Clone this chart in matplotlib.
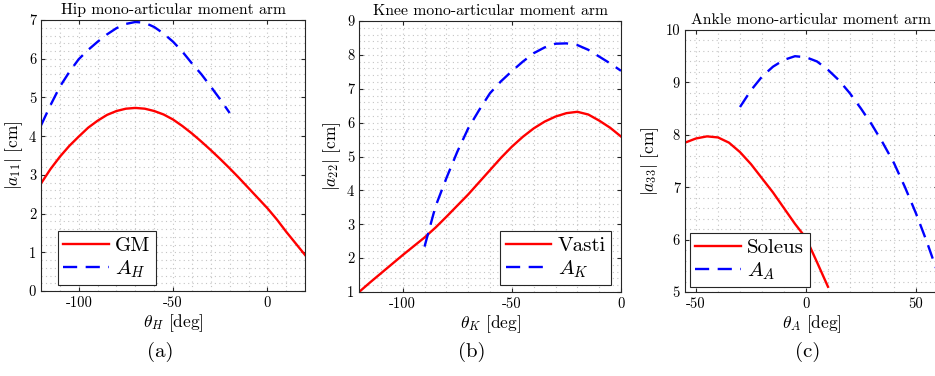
import numpy as np
import matplotlib
matplotlib.use("Agg")
import matplotlib.pyplot as plt
from matplotlib.ticker import MultipleLocator

plt.rcParams['font.family'] = 'serif'
plt.rcParams['font.serif'] = ['cmr10', 'DejaVu Serif']
plt.rcParams['mathtext.fontset'] = 'cm'
plt.rcParams['axes.unicode_minus'] = False
plt.rcParams['axes.formatter.use_mathtext'] = False

# ---- hip ----
hip_x_gm = [-120, -115, -110, -105, -100, -95, -90, -85, -80, -75, -70, -65, -60, -55, -50,
            -45, -40, -35, -30, -25, -20, -15, -10, -5, 0, 5, 10, 15, 20]
hip_gm = [2.78, 3.15, 3.47, 3.75, 3.99, 4.22, 4.40, 4.55, 4.65, 4.71, 4.73, 4.71, 4.65, 4.56, 4.43,
          4.26, 4.07, 3.86, 3.64, 3.41, 3.17, 2.92, 2.66, 2.40, 2.14, 1.85, 1.53, 1.23, 0.93]
hip_x_a = [-120, -115, -110, -105, -100, -95, -90, -85, -80, -75, -70, -65, -60, -55, -50,
           -45, -40, -35, -30, -25, -20]
hip_a = [4.28, 4.80, 5.28, 5.66, 5.99, 6.23, 6.44, 6.63, 6.79, 6.90, 6.95, 6.93, 6.82, 6.65, 6.44,
         6.18, 5.88, 5.60, 5.28, 4.95, 4.60]

# ---- knee ----
knee_x_v = [-120, -115, -110, -105, -100, -95, -90, -85, -80, -75, -70, -65, -60, -55, -50,
            -45, -40, -35, -30, -25, -20, -15, -10, -5, 0]
knee_v = [1.00, 1.28, 1.55, 1.82, 2.09, 2.35, 2.61, 2.90, 3.22, 3.55, 3.88, 4.24, 4.60, 4.96, 5.29,
          5.58, 5.83, 6.03, 6.18, 6.28, 6.32, 6.24, 6.06, 5.85, 5.59]
knee_x_a = [-90, -85, -80, -75, -70, -65, -60, -55, -50, -45, -40, -35, -30, -25, -20, -15, -10, -5, 0]
knee_a = [2.34, 3.52, 4.36, 5.14, 5.83, 6.37, 6.87, 7.22, 7.52, 7.80, 8.05, 8.22, 8.33, 8.34, 8.29,
          8.15, 7.95, 7.75, 7.53]

# ---- ankle ----
ank_x_s = [-55, -50, -45, -40, -35, -30, -25, -20, -15, -10, -5, 0, 5, 10]
ank_s = [7.85, 7.93, 7.97, 7.95, 7.85, 7.67, 7.44, 7.17, 6.90, 6.60, 6.30, 6.03, 5.57, 5.10]
ank_x_a = [-30, -25, -20, -15, -10, -5, 0, 5, 10, 15, 20, 25, 30, 35, 40, 45, 50, 55, 60]
ank_a = [8.53, 8.85, 9.11, 9.30, 9.43, 9.50, 9.48, 9.40, 9.24, 9.04, 8.79, 8.50, 8.19, 7.84, 7.46,
         7.00, 6.50, 5.95, 5.35]

panels = [
    dict(pos=[0.0439, 0.226, 0.2824, 0.7207], xs=(hip_x_gm, hip_x_a), ys=(hip_gm, hip_a),
         labels=('GM', r'$A_H$'), xlim=(-120, 20), ylim=(0, 7),
         title='Hip mono-articular moment arm', xlabel=r'$\theta_H$ [deg]', ylabel=r'$|a_{11}|$ [cm]',
         leg=dict(loc='lower left', bbox_to_anchor=(0.064, 0.022)), tag='(a)', tagx=0.171),
    dict(pos=[0.384, 0.2234, 0.2802, 0.7207], xs=(knee_x_v, knee_x_a), ys=(knee_v, knee_a),
         labels=('Vasti', r'$A_K$'), xlim=(-120, 0), ylim=(1, 9),
         title='Knee mono-articular moment arm', xlabel=r'$\theta_K$ [deg]', ylabel=r'$|a_{22}|$ [cm]',
         leg=dict(loc='lower right', bbox_to_anchor=(0.962, 0.026)), tag='(b)', tagx=0.505),
    dict(pos=[0.7326, 0.2234, 0.2706, 0.6968], xs=(ank_x_s, ank_x_a), ys=(ank_s, ank_a),
         labels=('Soleus', r'$A_A$'), xlim=(-55, 60), ylim=(5, 10),
         title='Ankle mono-articular moment arm', xlabel=r'$\theta_A$ [deg]', ylabel=r'$|a_{33}|$ [cm]',
         leg=dict(loc='lower left', bbox_to_anchor=(0.02, 0.019)), tag='(c)', tagx=0.864),
]

fig = plt.figure(figsize=(9.35, 3.76), dpi=100)

for p in panels:
    ax = fig.add_axes(p['pos'])
    ax.plot(p['xs'][0], p['ys'][0], color='red', lw=1.7, label=p['labels'][0])
    ax.plot(p['xs'][1], p['ys'][1], color='blue', lw=1.7, dashes=(6, 3.6), label=p['labels'][1])
    ax.set_xlim(*p['xlim'])
    ax.set_ylim(*p['ylim'])
    ax.xaxis.set_major_locator(MultipleLocator(50))
    ax.xaxis.set_minor_locator(MultipleLocator(10))
    ax.yaxis.set_major_locator(MultipleLocator(1))
    ax.yaxis.set_minor_locator(MultipleLocator(0.2))
    ax.grid(True, which='both', color='#c4c4c4', ls=(0, (1, 3)), lw=0.8)
    ax.set_axisbelow(True)
    ax.tick_params(which='major', direction='in', top=True, right=True, length=3,
                   labelsize=10.5, width=0.8, color='#262626')
    ax.tick_params(which='minor', length=0, top=True, right=True)
    for s in ax.spines.values():
        s.set_color('#262626')
        s.set_linewidth(0.8)
    ax.set_title(p['title'], fontsize=11.3, pad=4)
    ax.set_xlabel(p['xlabel'], fontsize=12.5, labelpad=2)
    ax.set_ylabel(p['ylabel'], fontsize=12.5, labelpad=3)
    leg = ax.legend(fontsize=15, handlelength=2.2, borderaxespad=0, fancybox=False,
                    framealpha=1, edgecolor='#262626', borderpad=0.25, labelspacing=0.15,
                    handletextpad=0.3, **p['leg'])
    leg.get_frame().set_linewidth(0.8)
    fig.text(p['tagx'], 0.064, p['tag'], fontsize=15, ha='center', va='center')

fig.savefig('out.png', dpi=100)
